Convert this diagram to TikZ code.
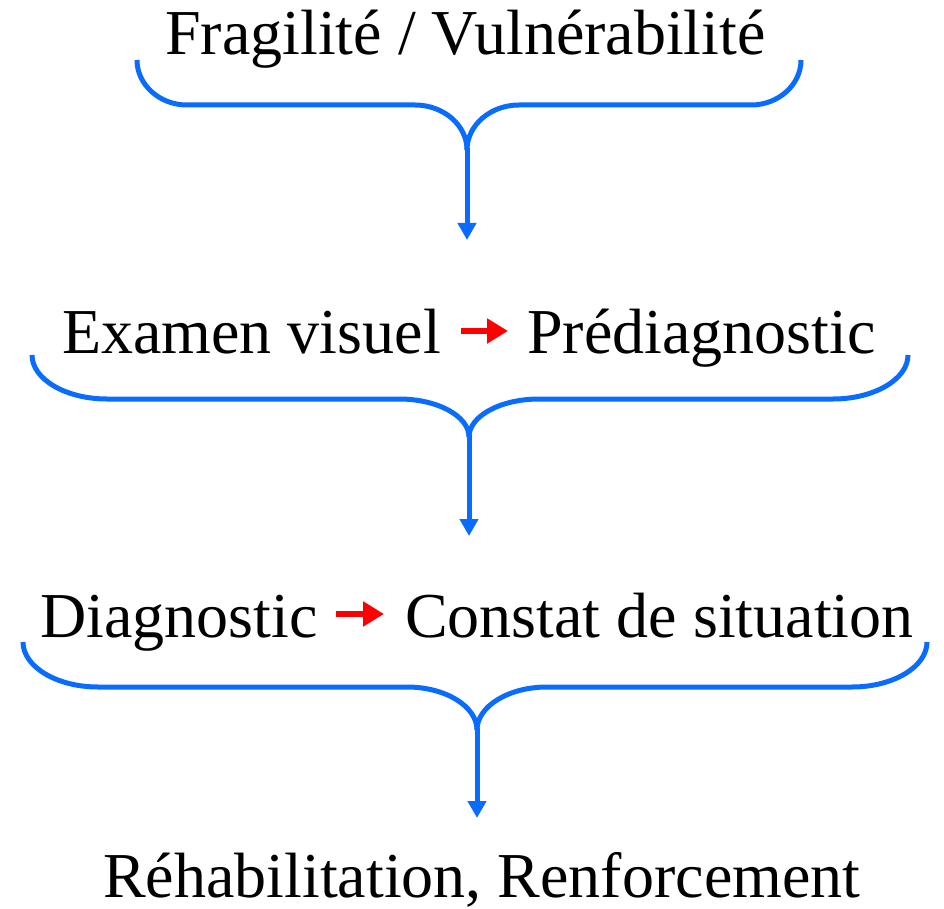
\documentclass[tikz,border=0pt]{standalone}
\usepackage{fontspec}
\setmainfont{Liberation Serif}
\usetikzlibrary{arrows.meta}
\definecolor{braceblue}{HTML}{0A6CFF}
\definecolor{arrred}{HTML}{FF0000}
\tikzset{
  lbl/.style={anchor=base west, inner sep=0pt, font=\fontsize{64}{70}\selectfont},
  bracepath/.style={draw=braceblue, line width=5pt, line cap=butt},
  downarrow/.style={draw=braceblue, line width=5pt, -{Triangle[width=18pt,length=17pt]}},
  redarrow/.style={draw=arrred, line width=6pt, -{Triangle[width=24pt,length=21pt]}}
}
% #1 xl, #2 xr, #3 ytop, #4 yh, #5 xc, #6 ycusp, #7 r1, #8 r2
\newcommand{\mybrace}[8]{%
  \path[bracepath] (#1,#3) .. controls (#1,{#3+0.55*(#4-#3)}) and ({#1+0.45*#7},#4) .. ({#1+#7},#4)
     -- ({#5-#8},#4) .. controls ({#5-0.45*#8},#4) and (#5,{#4+0.45*(#6-#4)}) .. (#5,#6);
  \path[bracepath] (#2,#3) .. controls (#2,{#3+0.55*(#4-#3)}) and ({#2-0.45*#7},#4) .. ({#2-#7},#4)
     -- ({#5+#8},#4) .. controls ({#5+0.45*#8},#4) and (#5,{#4+0.45*(#6-#4)}) .. (#5,#6);
}
\begin{document}
\begin{tikzpicture}[x=1pt,y=-1pt]
\useasboundingbox (0,0) rectangle (944,909);

% texts
\node[lbl] (t1) at (165,55) {Fragilité / Vulnérabilité};
\node[lbl] (t2a) at (62,353) {Examen visuel};
\node[lbl] (t2b) at (527,353) {Prédiagnostic};
\node[lbl] (t3a) at (40,637) {Diagnostic};
\node[lbl] (t3b) at (405,637) {Constat de situation};
\node[lbl] (t4) at (103,897) {Réhabilitation, Renforcement};

% red arrows
\coordinate (r1s) at (461,331);
\coordinate (r1e) at (508,331);
\coordinate (r2s) at (336,614);
\coordinate (r2e) at (384,614);
\draw[redarrow] (r1s) -- (r1e);
\draw[redarrow] (r2s) -- (r2e);

% braces
\mybrace{137}{801}{60}{105}{467}{150}{50}{52}
\mybrace{32}{908}{355}{399}{469}{437}{75}{70}
\mybrace{23}{927}{642}{687}{477}{730}{75}{70}

% down arrows
\coordinate (c1) at (467,148);
\coordinate (e1) at (467,240);
\coordinate (c2) at (469,435);
\coordinate (e2) at (469,536);
\coordinate (c3) at (477,728);
\coordinate (e3) at (477,818);
\draw[downarrow] (c1) -- (e1);
\draw[downarrow] (c2) -- (e2);
\draw[downarrow] (c3) -- (e3);
\end{tikzpicture}
\end{document}
